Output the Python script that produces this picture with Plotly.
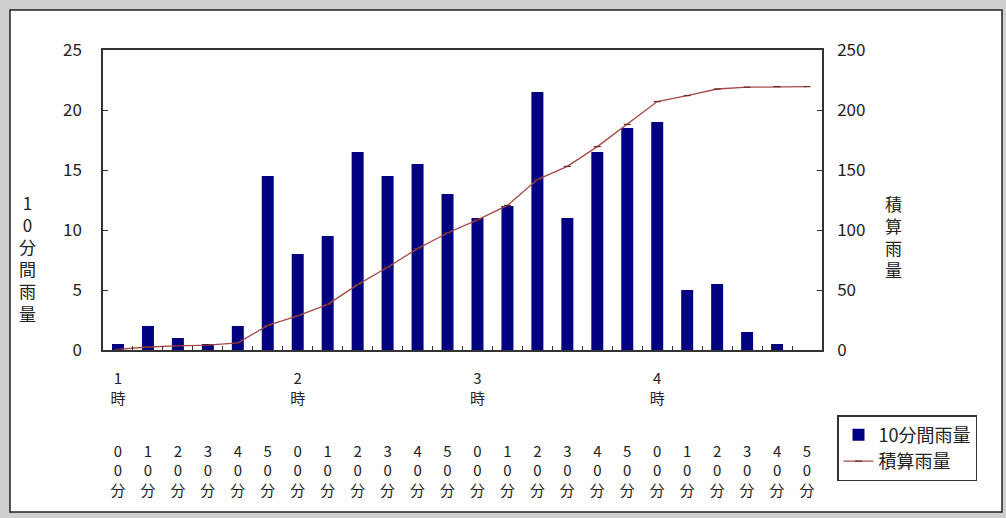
import plotly.graph_objects as go

# ---- data ----
categories = ["1:00", "1:10", "1:20", "1:30", "1:40", "1:50",
              "2:00", "2:10", "2:20", "2:30", "2:40", "2:50",
              "3:00", "3:10", "3:20", "3:30", "3:40", "3:50",
              "4:00", "4:10", "4:20", "4:30", "4:40", "4:50"]
minute_labels = ["0<br>0<br>分", "1<br>0<br>分", "2<br>0<br>分", "3<br>0<br>分", "4<br>0<br>分", "5<br>0<br>分"] * 4
hour_ticks = ["1:00", "2:00", "3:00", "4:00"]
hour_labels = ["1<br>時", "2<br>時", "3<br>時", "4<br>時"]
rain_10min = [0.5, 2, 1, 0.5, 2, 14.5, 8, 9.5, 16.5, 14.5, 15.5, 13,
              11, 12, 21.5, 11, 16.5, 18.5, 19, 5, 5.5, 1.5, 0.5, 0]
rain_total = [0.5, 2.5, 3.5, 4, 6, 20.5, 28.5, 38, 54.5, 69, 84.5, 97.5,
              108.5, 120.5, 142, 153, 169.5, 188, 207, 212, 217.5, 219, 219.5, 219.5]
left_ticks = [0, 5, 10, 15, 20, 25]
right_ticks = [0, 50, 100, 150, 200, 250]

FONT = "Noto Sans CJK JP"
TXT = "#222222"
W, H = 1006, 518
L, R, T, B = 103, 184, 50, 168
PW, PH = W - L - R, H - T - B


def px(xp):
    return (xp - L) / PW


def py(yp):
    return (H - B - yp) / PH


fig = go.Figure()
fig.add_trace(go.Bar(
    x=categories, y=rain_10min, name="10分間雨量",
    marker=dict(color="#000080", line=dict(width=0)),
    xaxis="x", yaxis="y",
))
fig.add_trace(go.Scatter(
    x=categories, y=rain_total, name="積算雨量", mode="lines+markers",
    line=dict(color="#a84a44", width=1.3),
    marker=dict(symbol="line-ew-open", size=5, color="#6a2a28", line=dict(width=1.2, color="#6a2a28")),
    xaxis="x2", yaxis="y2",
))

axis_line = dict(showline=True, linecolor="#333333", linewidth=1.5)

fig.update_layout(
    width=W, height=H,
    margin=dict(l=L, r=R, t=T, b=B, pad=0),
    paper_bgcolor="#cfcfcf", plot_bgcolor="white",
    font=dict(family=FONT, size=15, color=TXT),
    bargap=0.6,
    showlegend=True,
    legend=dict(x=px(837), y=py(415), xanchor="left", yanchor="top",
                bgcolor="white", bordercolor="#333333", borderwidth=1.5,
                font=dict(family=FONT, size=18, color=TXT),
                tracegroupgap=0, itemwidth=30),
    xaxis=dict(type="category", categoryorder="array", categoryarray=categories,
               range=[-0.5, 23.5], tickvals=categories, ticktext=minute_labels,
               ticks="inside", ticklen=4, tickcolor="#333333", tickson="boundaries",
               ticklabelstandoff=87, mirror=True, showgrid=False, zeroline=False,
               tickfont=dict(family=FONT, size=15, color=TXT), **axis_line),
    xaxis2=dict(type="category", categoryorder="array", categoryarray=categories,
                range=[-0.5, 23.5], overlaying="x", anchor="y2", side="bottom",
                tickvals=hour_ticks, ticktext=hour_labels, ticks="",
                ticklabelstandoff=18, showgrid=False, zeroline=False, showline=False,
                tickfont=dict(family=FONT, size=15, color=TXT)),
    yaxis=dict(range=[0, 25], tickvals=left_ticks, ticks="inside", ticklen=5,
               tickcolor="#333333", showgrid=False, zeroline=False,
               ticklabelstandoff=16,
               tickfont=dict(family=FONT, size=17, color=TXT), **axis_line),
    yaxis2=dict(range=[0, 250], tickvals=right_ticks, overlaying="y", side="right",
                anchor="x2", ticks="inside", ticklen=5, tickcolor="#333333",
                showgrid=False, zeroline=False, ticklabelstandoff=10,
                tickfont=dict(family=FONT, size=17, color=TXT), **axis_line),
    shapes=[dict(type="rect", xref="paper", yref="paper", layer="below",
                 x0=px(10), x1=px(1002), y0=py(10), y1=py(512),
                 fillcolor="white", line=dict(color="#222222", width=1.5))],
    annotations=[
        dict(text="1<br>0<br>分<br>間<br>雨<br>量", xref="paper", yref="paper",
             x=px(27), y=py(258), showarrow=False, xanchor="center", yanchor="middle",
             font=dict(family=FONT, size=17, color=TXT)),
        dict(text="積<br>算<br>雨<br>量", xref="paper", yref="paper",
             x=px(893), y=py(236), showarrow=False, xanchor="center", yanchor="middle",
             font=dict(family=FONT, size=17, color=TXT)),
    ],
)

fig.write_html("out.html", config={"displayModeBar": False},
               post_script="document.body.style.margin='0';document.body.style.overflow='hidden';")
